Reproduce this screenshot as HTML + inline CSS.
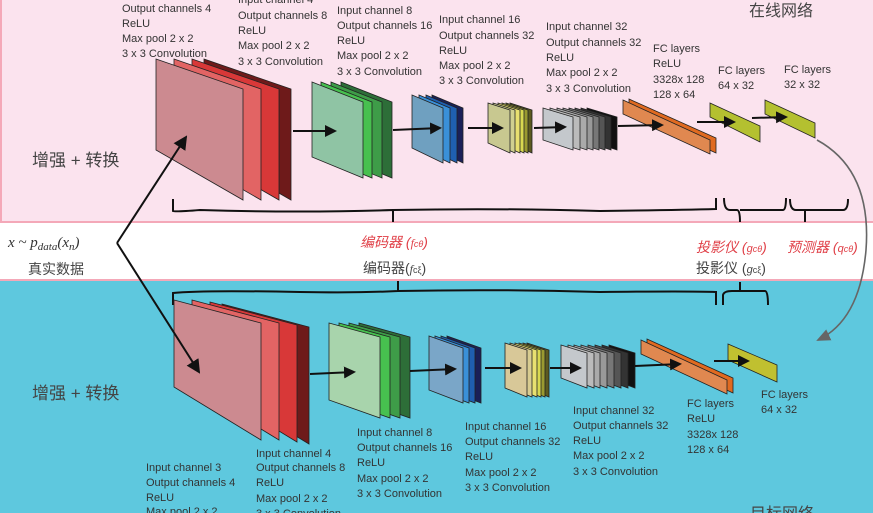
<!DOCTYPE html>
<html><head><meta charset="utf-8"><style>
html,body{margin:0;padding:0;background:#fff;}
svg{display:block;}
.t{font-family:"Liberation Sans","Noto Sans CJK SC",sans-serif;font-size:11px;fill:#333;}
.c{font-family:"Liberation Sans","Noto Sans CJK SC",sans-serif;fill:#444;}
.r{font-family:"Liberation Sans","Noto Sans CJK SC",sans-serif;fill:#e04048;font-style:italic;}
.s{stroke:#222;stroke-width:0.8;}
</style></head><body>
<svg width="873" height="513" viewBox="0 0 873 513" xmlns="http://www.w3.org/2000/svg">
<defs>
<marker id="ah2" markerWidth="12" markerHeight="12" refX="10" refY="6" orient="auto" markerUnits="userSpaceOnUse"><path d="M0,0 L12,6 L0,12 z" fill="#111"/></marker>
<marker id="ah3" markerWidth="14" markerHeight="14" refX="12" refY="7" orient="auto" markerUnits="userSpaceOnUse"><path d="M0,0 L14,7 L0,14 z" fill="#111"/></marker>
<marker id="ahg" markerWidth="14" markerHeight="12" refX="12" refY="6" orient="auto" markerUnits="userSpaceOnUse"><path d="M0,0 L14,6 L0,12 z" fill="#666"/></marker>
</defs>
<rect x="0" y="0" width="873" height="223" fill="#fbe3ee"/>
<rect x="0" y="221" width="873" height="2" fill="#f4a8b8"/>
<rect x="0" y="280" width="873" height="233" fill="#5ec8de"/>
<rect x="0" y="279" width="873" height="2" fill="#f4a8b8"/>
<rect x="0" y="0" width="2" height="223" fill="#f4a8b8"/>

<!-- TOP NETWORK -->
<g class="s">
<g transform="translate(48,0)"><polygon points="156,59 243,89 243,200 156,150" fill="#6e1a1a"/></g>
<g transform="translate(36,0)"><polygon points="156,59 243,89 243,200 156,150" fill="#d83838"/></g>
<g transform="translate(18,0)"><polygon points="156,59 243,89 243,200 156,150" fill="#e26464"/></g>
<polygon points="156,59 243,89 243,200 156,150" fill="#cc8a90"/>

<g transform="translate(29,0)"><polygon points="312,82 363,102 363,178 312,157" fill="#2d6e38"/></g>
<g transform="translate(19,0)"><polygon points="312,82 363,102 363,178 312,157" fill="#3e9c48"/></g>
<g transform="translate(9,0)"><polygon points="312,82 363,102 363,178 312,157" fill="#47c04f"/></g>
<polygon points="312,82 363,102 363,178 312,157" fill="#8fc4a4"/>

<g transform="translate(20,0)"><polygon points="412,95 443,108 443,163 412,148" fill="#1a2058"/></g>
<g transform="translate(14,0)"><polygon points="412,95 443,108 443,163 412,148" fill="#1f5fb0"/></g>
<g transform="translate(7,0)"><polygon points="412,95 443,108 443,163 412,148" fill="#3a90d8"/></g>
<polygon points="412,95 443,108 443,163 412,148" fill="#6fa0c0"/>

<g transform="translate(22,0)"><polygon points="488,103 510,110 510,153 488,143" fill="#5c5a20"/></g>
<g transform="translate(18,0)"><polygon points="488,103 510,110 510,153 488,143" fill="#9a9a30"/></g>
<g transform="translate(14,0)"><polygon points="488,103 510,110 510,153 488,143" fill="#d8d850"/></g>
<g transform="translate(10,0)"><polygon points="488,103 510,110 510,153 488,143" fill="#e8e070"/></g>
<g transform="translate(5,0)"><polygon points="488,103 510,110 510,153 488,143" fill="#d0d090"/></g>
<polygon points="488,103 510,110 510,153 488,143" fill="#c8c890"/>

<g transform="translate(44,0)"><polygon points="543,108 573,117 573,150 543,140" fill="#111"/></g>
<g transform="translate(38,0)"><polygon points="543,108 573,117 573,150 543,140" fill="#333"/></g>
<g transform="translate(32,0)"><polygon points="543,108 573,117 573,150 543,140" fill="#555"/></g>
<g transform="translate(26,0)"><polygon points="543,108 573,117 573,150 543,140" fill="#777"/></g>
<g transform="translate(20,0)"><polygon points="543,108 573,117 573,150 543,140" fill="#999"/></g>
<g transform="translate(14,0)"><polygon points="543,108 573,117 573,150 543,140" fill="#aaa"/></g>
<g transform="translate(7,0)"><polygon points="543,108 573,117 573,150 543,140" fill="#bbb"/></g>
<polygon points="543,108 573,117 573,150 543,140" fill="#c4c8cc"/>

<polygon points="629,99 716,138 716,153 629,113" fill="#e06a20"/>
<polygon points="623,100 710,140 710,154 623,114" fill="#e08850"/>
<polygon points="710,103 760,126 760,142 710,117" fill="#b4c030"/>
<polygon points="765,100 815,123 815,138 765,114" fill="#b4c030"/>
</g>
<g stroke="#111" stroke-width="2" fill="none">
<line x1="293" y1="131" x2="335" y2="131" marker-end="url(#ah2)"/>
<line x1="393" y1="130" x2="440" y2="128" marker-end="url(#ah2)"/>
<line x1="468" y1="128" x2="502" y2="128" marker-end="url(#ah2)"/>
<line x1="534" y1="128" x2="565" y2="127" marker-end="url(#ah2)"/>
<line x1="618" y1="126" x2="662" y2="125" marker-end="url(#ah2)"/>
<line x1="697" y1="122" x2="734" y2="122" marker-end="url(#ah2)"/>
<line x1="752" y1="118" x2="786" y2="117" marker-end="url(#ah2)"/>
</g>

<!-- top labels -->
<text class="t" x="122" y="12">Output channels 4</text>
<text class="t" x="122" y="27">ReLU</text>
<text class="t" x="122" y="42">Max pool 2 x 2</text>
<text class="t" x="122" y="57">3 x 3 Convolution</text>
<text class="t" x="238" y="3">Input channel 4</text>
<text class="t" x="238" y="19">Output channels 8</text>
<text class="t" x="238" y="34">ReLU</text>
<text class="t" x="238" y="49">Max pool 2 x 2</text>
<text class="t" x="238" y="65">3 x 3 Convolution</text>
<text class="t" x="337" y="14">Input channel 8</text>
<text class="t" x="337" y="29">Output channels 16</text>
<text class="t" x="337" y="44">ReLU</text>
<text class="t" x="337" y="59">Max pool 2 x 2</text>
<text class="t" x="337" y="75">3 x 3 Convolution</text>
<text class="t" x="439" y="23">Input channel 16</text>
<text class="t" x="439" y="39">Output channels 32</text>
<text class="t" x="439" y="54">ReLU</text>
<text class="t" x="439" y="69">Max pool 2 x 2</text>
<text class="t" x="439" y="84">3 x 3 Convolution</text>
<text class="t" x="546" y="30">Input channel 32</text>
<text class="t" x="546" y="46">Output channels 32</text>
<text class="t" x="546" y="61">ReLU</text>
<text class="t" x="546" y="76">Max pool 2 x 2</text>
<text class="t" x="546" y="92">3 x 3 Convolution</text>
<text class="t" x="653" y="52">FC layers</text>
<text class="t" x="653" y="67">ReLU</text>
<text class="t" x="653" y="83">3328x 128</text>
<text class="t" x="653" y="98">128 x 64</text>
<text class="t" x="718" y="74">FC layers</text>
<text class="t" x="718" y="89">64 x 32</text>
<text class="t" x="784" y="73">FC layers</text>
<text class="t" x="784" y="88">32 x 32</text>
<text class="c" x="749" y="16" font-size="16">在线网络</text>
<text class="c" x="32" y="166" font-size="17">增强 + 转换</text>

<!-- top braces -->
<g stroke="#111" stroke-width="2" fill="none">
<path d="M173,199 V211 Q175,212 200,210 Q300,213 393,210 V222 M393,210 Q500,208 600,211 Q680,210 716,209 V198"/>
<path d="M724,198 Q724,210 730,210 H737 Q740,210 740,222 M740,210 H783 Q786,210 786,198"/>
<path d="M790,199 Q790,210 796,210 H805 V222 M805,210 H843 Q848,210 848,199"/>
</g>

<!-- middle -->
<text x="8" y="247" font-family="Liberation Serif,serif" font-style="italic" font-size="15" fill="#333">x ~ p<tspan font-size="11" dy="3">data</tspan><tspan dy="-3">(x</tspan><tspan font-size="11" dy="3">n</tspan><tspan dy="-3">)</tspan></text>
<text class="c" x="28" y="274" font-size="14">真实数据</text>
<text class="r" x="360" y="247" font-size="14">编码器 (<tspan font-family="Liberation Serif,serif" font-size="12">f</tspan><tspan font-size="9">cθ</tspan>)</text>
<text class="c" x="363" y="273" font-size="14">编码器(<tspan font-family="Liberation Serif,serif" font-style="italic" font-size="12">f</tspan><tspan font-size="9">cξ</tspan>)</text>
<text class="r" x="696" y="252" font-size="14">投影仪 (<tspan font-size="11">g</tspan><tspan font-size="9">cθ</tspan>)</text>
<text class="r" x="787" y="252" font-size="14">预测器 (<tspan font-size="11">q</tspan><tspan font-size="9">cθ</tspan>)</text>
<text class="c" x="696" y="273" font-size="14">投影仪 (<tspan font-style="italic" font-size="11">g</tspan><tspan font-size="9">cξ</tspan>)</text>

<!-- bottom braces -->
<g stroke="#111" stroke-width="2" fill="none">
<path d="M173,305 V293 Q200,290 300,292 Q360,293 398,291 V281 M398,291 Q500,289 600,292 Q690,291 716,292 V305"/>
<path d="M723,305 V295 Q724,291 732,291 H740 V282 M740,291 H765 Q768,291 768,305"/>
</g>

<!-- curved gray arrow -->
<path d="M817,140 Q872,170 866,250 Q860,320 818,340" stroke="#666" stroke-width="1.6" fill="none" marker-end="url(#ahg)"/>

<!-- BOTTOM NETWORK -->
<g class="s">
<g transform="translate(48,4)"><polygon points="174,300 261,323 261,440 174,387" fill="#6e1a1a"/></g>
<g transform="translate(36,2)"><polygon points="174,300 261,323 261,440 174,387" fill="#d83838"/></g>
<g transform="translate(18,0)"><polygon points="174,300 261,323 261,440 174,387" fill="#e26464"/></g>
<polygon points="174,300 261,323 261,440 174,387" fill="#cc8a90"/>

<g transform="translate(30,0)"><polygon points="329,323 380,337 380,418 329,400" fill="#2d6e38"/></g>
<g transform="translate(20,0)"><polygon points="329,323 380,337 380,418 329,400" fill="#3e9c48"/></g>
<g transform="translate(10,0)"><polygon points="329,323 380,337 380,418 329,400" fill="#47c04f"/></g>
<polygon points="329,323 380,337 380,418 329,400" fill="#a8d4ac"/>

<g transform="translate(18,0)"><polygon points="429,336 463,348 463,403 429,390" fill="#1a2058"/></g>
<g transform="translate(12,0)"><polygon points="429,336 463,348 463,403 429,390" fill="#1f5fb0"/></g>
<g transform="translate(6,0)"><polygon points="429,336 463,348 463,403 429,390" fill="#3a90d8"/></g>
<polygon points="429,336 463,348 463,403 429,390" fill="#7aa6c8"/>

<g transform="translate(22,0)"><polygon points="505,343 527,350 527,397 505,388" fill="#5c5a20"/></g>
<g transform="translate(18,0)"><polygon points="505,343 527,350 527,397 505,388" fill="#9a9a30"/></g>
<g transform="translate(14,0)"><polygon points="505,343 527,350 527,397 505,388" fill="#d8d850"/></g>
<g transform="translate(10,0)"><polygon points="505,343 527,350 527,397 505,388" fill="#e8e070"/></g>
<g transform="translate(5,0)"><polygon points="505,343 527,350 527,397 505,388" fill="#d8cc90"/></g>
<polygon points="505,343 527,350 527,397 505,388" fill="#d8c898"/>

<g transform="translate(48,0)"><polygon points="561,345 587,353 587,388 561,378" fill="#111"/></g>
<g transform="translate(41,0)"><polygon points="561,345 587,353 587,388 561,378" fill="#333"/></g>
<g transform="translate(34,0)"><polygon points="561,345 587,353 587,388 561,378" fill="#555"/></g>
<g transform="translate(27,0)"><polygon points="561,345 587,353 587,388 561,378" fill="#777"/></g>
<g transform="translate(20,0)"><polygon points="561,345 587,353 587,388 561,378" fill="#999"/></g>
<g transform="translate(13,0)"><polygon points="561,345 587,353 587,388 561,378" fill="#aaa"/></g>
<g transform="translate(7,0)"><polygon points="561,345 587,353 587,388 561,378" fill="#bbb"/></g>
<polygon points="561,345 587,353 587,388 561,378" fill="#c4c8cc"/>

<polygon points="647,339 733,378 733,393 647,353" fill="#e06a20"/>
<polygon points="641,340 727,380 727,394 641,354" fill="#e08850"/>
<polygon points="728,344 777,365 777,382 728,360" fill="#c0c030"/>
</g>
<g stroke="#111" stroke-width="2" fill="none">
<line x1="310" y1="374" x2="354" y2="372" marker-end="url(#ah2)"/>
<line x1="410" y1="371" x2="455" y2="369" marker-end="url(#ah2)"/>
<line x1="485" y1="368" x2="520" y2="368" marker-end="url(#ah2)"/>
<line x1="550" y1="368" x2="580" y2="368" marker-end="url(#ah2)"/>
<line x1="635" y1="366" x2="680" y2="364" marker-end="url(#ah2)"/>
<line x1="714" y1="361" x2="748" y2="361" marker-end="url(#ah2)"/>
</g>

<!-- data arrows (drawn over plates) -->
<g stroke="#111" stroke-width="2" fill="none">
<path d="M117,243 L186,137" marker-end="url(#ah3)"/>
<path d="M117,243 L199,372" marker-end="url(#ah3)"/>
</g>

<text class="c" x="32" y="399" font-size="17">增强 + 转换</text>

<text class="t" x="146" y="471">Input channel 3</text>
<text class="t" x="146" y="486">Output channels 4</text>
<text class="t" x="146" y="501">ReLU</text>
<text class="t" x="146" y="515">Max pool 2 x 2</text>
<text class="t" x="256" y="457">Input channel 4</text>
<text class="t" x="256" y="471">Output channels 8</text>
<text class="t" x="256" y="486">ReLU</text>
<text class="t" x="256" y="502">Max pool 2 x 2</text>
<text class="t" x="256" y="517">3 x 3 Convolution</text>
<text class="t" x="357" y="436">Input channel 8</text>
<text class="t" x="357" y="451">Output channels 16</text>
<text class="t" x="357" y="466">ReLU</text>
<text class="t" x="357" y="482">Max pool 2 x 2</text>
<text class="t" x="357" y="497">3 x 3 Convolution</text>
<text class="t" x="465" y="430">Input channel 16</text>
<text class="t" x="465" y="445">Output channels 32</text>
<text class="t" x="465" y="460">ReLU</text>
<text class="t" x="465" y="476">Max pool 2 x 2</text>
<text class="t" x="465" y="491">3 x 3 Convolution</text>
<text class="t" x="573" y="414">Input channel 32</text>
<text class="t" x="573" y="429">Output channels 32</text>
<text class="t" x="573" y="444">ReLU</text>
<text class="t" x="573" y="459">Max pool 2 x 2</text>
<text class="t" x="573" y="475">3 x 3 Convolution</text>
<text class="t" x="687" y="407">FC layers</text>
<text class="t" x="687" y="422">ReLU</text>
<text class="t" x="687" y="438">3328x 128</text>
<text class="t" x="687" y="453">128 x 64</text>
<text class="t" x="761" y="398">FC layers</text>
<text class="t" x="761" y="413">64 x 32</text>
<text class="c" x="750" y="519" font-size="16">目标网络</text>
</svg>
</body></html>
